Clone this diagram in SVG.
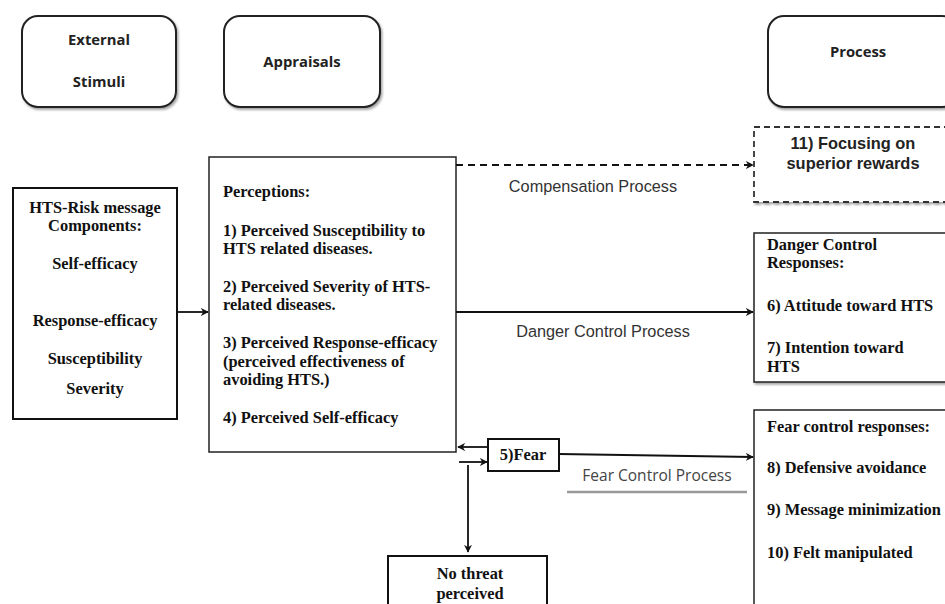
<svg xmlns="http://www.w3.org/2000/svg" width="945" height="604" viewBox="0 0 945 604">
<defs>
<marker id="ah" viewBox="0 0 10 10" refX="9" refY="5" markerWidth="8" markerHeight="8" markerUnits="userSpaceOnUse" orient="auto"><path d="M0,0 L10,5 L0,10 L3,5 z" fill="#111"/></marker>
<filter id="sh" x="-10%" y="-10%" width="130%" height="130%"><feDropShadow dx="1.5" dy="2" stdDeviation="1" flood-color="#000" flood-opacity="0.35"/></filter>
</defs>
<style>
.rb{fill:#fff;stroke:#222;stroke-width:2;filter:url(#sh)}
.bx{fill:#fff;stroke:#111;stroke-width:2}
.bx1{fill:#fff;stroke:#222;stroke-width:1.5}
.dash{fill:#fff;stroke:#333;stroke-width:1.8;stroke-dasharray:6 4;filter:url(#sh)}
.hd{font-family:"Open Sans","Liberation Sans",sans-serif;font-weight:bold;font-size:14.8px;fill:#222;text-anchor:middle}
.tm{font-family:"Liberation Serif",serif;font-weight:bold;font-size:16.4px;fill:#111}
.tmc{font-family:"Liberation Serif",serif;font-weight:bold;font-size:16.4px;fill:#111;text-anchor:middle}
.lb{font-family:"Liberation Sans",sans-serif;font-size:16.3px;fill:#333;text-anchor:middle}
.ar{font-family:"Liberation Sans",sans-serif;font-weight:bold;font-size:16.4px;fill:#222;text-anchor:middle}
.ln{stroke:#111;stroke-width:1.8;fill:none}
</style>
<g id="header-external"><rect class="rb" x="22" y="16" width="154" height="91" rx="16"/><text class="hd" x="99" y="45">External</text><text class="hd" x="99" y="87">Stimuli</text></g>
<g id="header-appraisals"><rect class="rb" x="224" y="16" width="156" height="91" rx="16"/><text class="hd" x="302" y="67">Appraisals</text></g>
<g id="header-process"><rect class="rb" x="768" y="16" width="190" height="91" rx="16"/><text class="hd" x="858" y="57">Process</text></g>
<g id="node-rewards"><rect class="dash" x="754" y="127" width="200" height="75"/><text class="ar" x="853" y="149">11) Focusing on</text><text class="ar" x="853" y="169">superior rewards</text></g>
<g id="node-message"><rect class="bx" x="13" y="188" width="164" height="231"/>
<text class="tmc" x="95" y="213">HTS-Risk message</text><text class="tmc" x="95" y="231">Components:</text><text class="tmc" x="95" y="269">Self-efficacy</text><text class="tmc" x="95" y="326">Response-efficacy</text><text class="tmc" x="95" y="364">Susceptibility</text><text class="tmc" x="95" y="394">Severity</text></g>
<g id="node-perceptions"><rect class="bx1" x="209" y="157" width="247" height="295"/>
<text class="tm" x="223" y="197">Perceptions:</text>
<text class="tm" x="223" y="236">1) Perceived Susceptibility to</text><text class="tm" x="223" y="254">HTS related diseases.</text>
<text class="tm" x="223" y="292">2) Perceived Severity of HTS-</text><text class="tm" x="223" y="310">related diseases.</text>
<text class="tm" x="223" y="348">3) Perceived Response-efficacy</text><text class="tm" x="223" y="367">(perceived effectiveness of</text><text class="tm" x="223" y="385">avoiding HTS.)</text>
<text class="tm" x="223" y="423">4) Perceived Self-efficacy</text></g>
<g id="node-danger"><rect class="bx1" x="754" y="233" width="200" height="149" filter="url(#sh)"/>
<text class="tm" x="767" y="250">Danger Control</text><text class="tm" x="767" y="268">Responses:</text><text class="tm" x="767" y="311">6) Attitude toward HTS</text><text class="tm" x="767" y="353">7) Intention toward</text><text class="tm" x="767" y="372">HTS</text></g>
<g id="node-fearresp"><rect class="bx1" x="754" y="410" width="200" height="210"/>
<text class="tm" x="767" y="432">Fear control responses:</text><text class="tm" x="767" y="473">8) Defensive avoidance</text><text class="tm" x="767" y="515">9) Message minimization</text><text class="tm" x="767" y="558">10) Felt manipulated</text></g>
<g id="node-fear"><rect class="bx" x="488" y="439" width="71" height="32"/><text class="tmc" x="523" y="460">5)Fear</text></g>
<g id="node-nothreat"><rect class="bx" x="388" y="556" width="159" height="60"/><text class="tmc" x="470" y="579">No threat</text><text class="tmc" x="470" y="599">perceived</text></g>
<g id="connectors">
<line class="ln" x1="177" y1="312" x2="208" y2="312" marker-end="url(#ah)"/>
<line class="ln" x1="456" y1="165" x2="753" y2="165" stroke-dasharray="7 5" marker-end="url(#ah)"/>
<line class="ln" x1="456" y1="312" x2="753" y2="312" marker-end="url(#ah)"/>
<line class="ln" x1="488" y1="447" x2="458" y2="447" marker-end="url(#ah)"/>
<line class="ln" x1="459" y1="462" x2="487" y2="462" marker-end="url(#ah)"/>
<line class="ln" x1="468" y1="465" x2="468" y2="552" marker-end="url(#ah)"/>
<line class="ln" x1="559" y1="454" x2="753" y2="457" marker-end="url(#ah)"/>
<text class="lb" x="593" y="192">Compensation Process</text>
<text class="lb" x="603" y="337">Danger Control Process</text>
<text class="lb" x="657" y="481" style="font-family:'Open Sans','Liberation Sans',sans-serif;font-size:15.5px;fill:#444">Fear Control Process</text>
<line x1="567" y1="492" x2="747" y2="492" stroke="#999" stroke-width="2.5"/>
</g>
</svg>
